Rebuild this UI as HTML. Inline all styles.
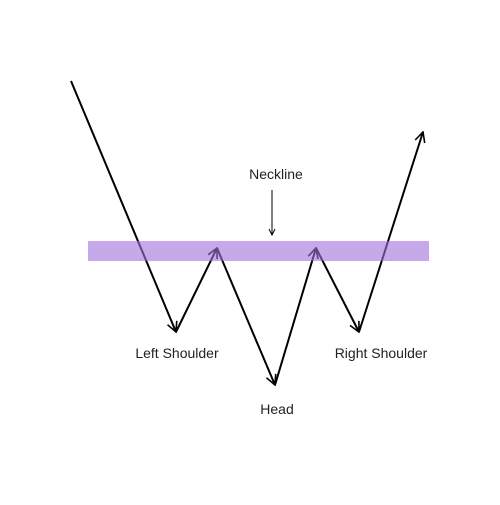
<!DOCTYPE html>
<html><head><meta charset="utf-8"><style>
html,body{margin:0;padding:0;background:#fff}
svg text{font-family:"Liberation Sans",sans-serif;font-size:14px;fill:#222}
</style></head><body>
<svg id="c" width="500" height="500" viewBox="0 0 500 500">
<defs><marker id="ah" viewBox="0 0 12 12" refX="11" refY="6" markerWidth="12" markerHeight="12" markerUnits="userSpaceOnUse" orient="auto"><path d="M1,1 L11,6 L1,11" fill="none" stroke="#000" stroke-width="1.6"/></marker>
<marker id="sa" viewBox="0 0 8 8" refX="7" refY="4" markerWidth="8" markerHeight="8" markerUnits="userSpaceOnUse" orient="auto"><path d="M1,1 L7,4 L1,7" fill="none" stroke="#000" stroke-width="1"/></marker></defs>
<g id="segs"></g>
<rect x="88" y="241" width="341" height="20" fill="#a070dc" fill-opacity="0.6"/>
<line x1="272" y1="190" x2="272" y2="235" stroke="#000" stroke-width="1" marker-end="url(#sa)"/>
<text x="276" y="179" text-anchor="middle">Neckline</text>
<text x="177" y="358" text-anchor="middle">Left Shoulder</text>
<text x="277" y="414" text-anchor="middle">Head</text>
<text x="381" y="358" text-anchor="middle">Right Shoulder</text>
</svg>
<script>
const xs = [71, 176, 217, 275, 316, 359, 423];
const ys = [81, 332, 248, 385, 248, 332, 132];
const names = ['start','left-shoulder','peak-1','head','peak-2','right-shoulder','breakout'];
const g = document.getElementById('segs');
for (let i = 0; i < xs.length - 1; i++) {
  const l = document.createElementNS('http://www.w3.org/2000/svg','line');
  l.setAttribute('x1', xs[i]); l.setAttribute('y1', ys[i]);
  l.setAttribute('x2', xs[i+1]); l.setAttribute('y2', ys[i+1]);
  l.setAttribute('stroke', '#000'); l.setAttribute('stroke-width', '2');
  l.setAttribute('marker-end', 'url(#ah)');
  
  
  g.appendChild(l);
}
</script>
</body></html>
